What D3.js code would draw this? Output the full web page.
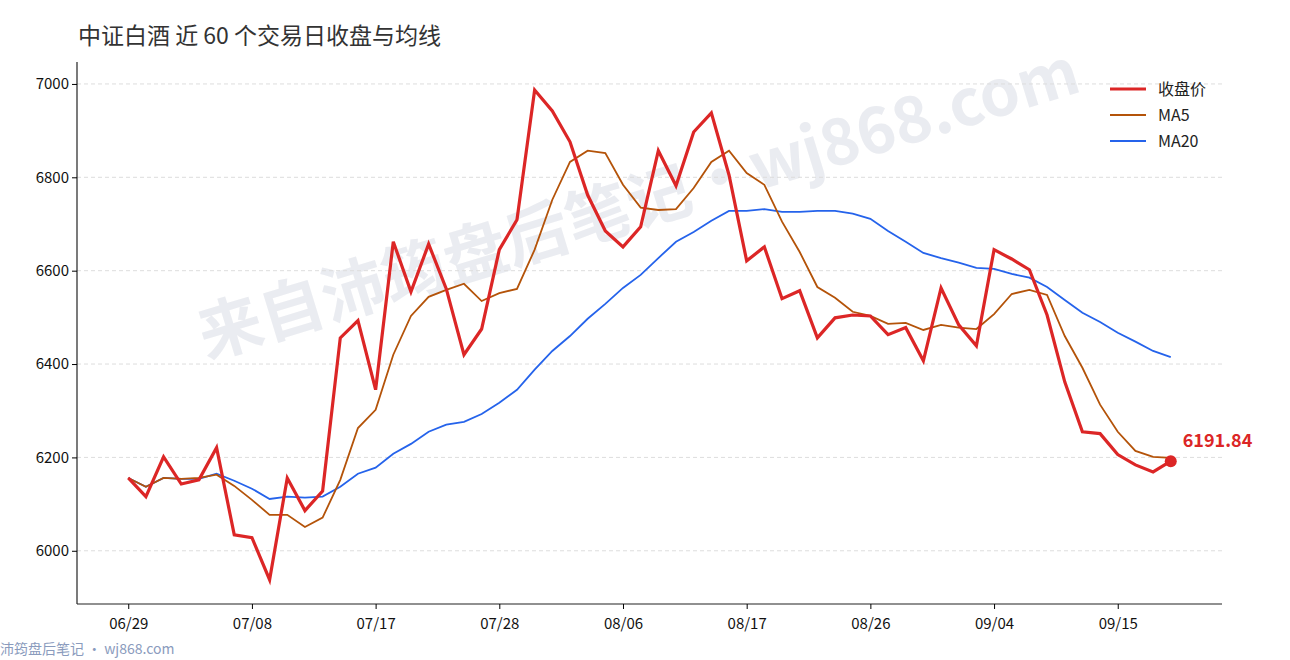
<!DOCTYPE html>
<html><head><meta charset="utf-8">
<script src="https://cdn.jsdelivr.net/npm/d3@7"></script>
<style>body{margin:0;background:#fff;font-family:"Noto Sans CJK SC","Noto Sans",sans-serif}</style>
</head><body><svg id="chart" width="1290" height="660"></svg>
<script>
const dates = ["06/29","06/30","07/01","07/02","07/03","07/06","07/07","07/08","07/09","07/10",
"07/13","07/14","07/15","07/16","07/17","07/20","07/21","07/22","07/23","07/24",
"07/27","07/28","07/29","07/30","07/31","08/03","08/04","08/05","08/06","08/07",
"08/10","08/11","08/12","08/13","08/14","08/17","08/18","08/19","08/20","08/21",
"08/24","08/25","08/26","08/27","08/28","08/31","09/01","09/02","09/03","09/04",
"09/07","09/08","09/09","09/10","09/11","09/14","09/15","09/16","09/17","09/18"];
const close = [6156,6116,6201,6143,6152,6221,6034,6028,5938,6156,6086,6128,6456,6493,6345,6662,6555,6657,6561,6420,
6475,6645,6709,6987,6942,6876,6762,6685,6651,6694,6857,6782,6897,6938,6805,6621,6651,6540,6557,6456,
6499,6505,6503,6463,6478,6407,6563,6484,6439,6645,6625,6602,6505,6362,6255,6251,6206,6184,6169,6191.84];
const ma5 = [6156,6137,6156,6154,6156,6163,6139,6109,6077,6077,6051,6071,6152,6263,6302,6420,6503,6544,6559,6572,
6535,6552,6561,6645,6752,6833,6857,6852,6784,6735,6730,6732,6777,6833,6857,6809,6784,6705,6640,6565,
6542,6512,6503,6486,6488,6473,6484,6478,6475,6507,6550,6559,6548,6460,6392,6313,6255,6214,6201,6199];
const ma20 = [6156,6137,6156,6154,6154,6165,6150,6133,6111,6116,6114,6116,6137,6165,6178,6208,6229,6255,6270,6276,
6293,6317,6345,6388,6428,6460,6497,6529,6563,6591,6627,6662,6683,6707,6728,6728,6732,6726,6726,6728,
6728,6722,6711,6685,6662,6638,6627,6617,6606,6604,6593,6585,6565,6537,6510,6490,6467,6448,6428,6415];
const yTicks = [6000,6200,6400,6600,6800,7000];
const xTickIdx = [0,7,14,21,28,35,42,49,56];

const svg = d3.select("#chart");
const L=77,R=1222,T=62,B=604;
const x = d3.scaleLinear().domain([-2.9,61.9]).range([L,R]);
const y = d3.scaleLinear().domain([5886,7047]).range([B,T]);

svg.append("text").attr("x",645).attr("y",225).attr("text-anchor","middle")
  .attr("transform","rotate(-17,645,225)").attr("font-size",64).attr("font-weight","bold")
  .attr("fill","#e6e8ee").attr("opacity",0.8).text("来自沛筠盘后笔记·wj868.com");

svg.append("g").selectAll("line").data(yTicks).join("line")
  .attr("x1",L).attr("x2",R).attr("y1",d=>y(d)).attr("y2",d=>y(d))
  .attr("stroke","#ddd").attr("stroke-dasharray","4,3");

const ya = svg.append("g").attr("transform",`translate(${L},0)`)
  .call(d3.axisLeft(y).tickValues(yTicks).tickSize(5).tickFormat(d3.format("d")));
const xa = svg.append("g").attr("transform",`translate(0,${B})`)
  .call(d3.axisBottom(x).tickValues(xTickIdx).tickSize(5).tickFormat(i=>dates[i]));
[ya,xa].forEach(a=>{a.select(".domain").attr("stroke","#222").attr("stroke-width",1.2);
  a.selectAll("text").attr("font-size",15).attr("fill","#111").attr("font-family","Noto Sans CJK SC");});
xa.select(".domain").attr("d",`M${L},0H${R}`);
ya.select(".domain").attr("d",`M0,${T}V${B}`);
xa.selectAll("text").attr("dy","1.1em");

const line = d3.line().x((d,i)=>x(i)).y(d=>y(d));
svg.append("path").datum(ma20).attr("d",line).attr("fill","none").attr("stroke","#2563eb").attr("stroke-width",1.8);
svg.append("path").datum(ma5).attr("d",line).attr("fill","none").attr("stroke","#b45309").attr("stroke-width",1.8);
svg.append("path").datum(close).attr("d",line).attr("fill","none").attr("stroke","#dc2626").attr("stroke-width",3.2);
const li=close.length-1;
svg.append("circle").attr("cx",x(li)).attr("cy",y(close[li])).attr("r",6).attr("fill","#dc2626");
svg.append("text").attr("x",x(li)+12).attr("y",y(close[li])-14).attr("font-size",18).attr("font-weight","bold")
  .attr("fill","#dc2626").text(d3.format(".2f")(close[li]));

const leg=[["收盘价","#dc2626",3.2],["MA5","#b45309",1.8],["MA20","#2563eb",1.8]];
leg.forEach((d,i)=>{const ly=89+i*26;
  svg.append("line").attr("x1",1110).attr("x2",1146).attr("y1",ly).attr("y2",ly).attr("stroke",d[1]).attr("stroke-width",d[2]);
  svg.append("text").attr("x",1158).attr("y",ly+6).attr("font-size",16).attr("fill","#222").text(d[0]);});

svg.append("text").attr("x",78).attr("y",44).attr("font-size",23).attr("fill","#333").text("中证白酒 近 60 个交易日收盘与均线");
svg.append("text").attr("x",0).attr("y",654).attr("font-size",14).attr("fill","#8a9bbd").text("沛筠盘后笔记 · wj868.com");
</script></body></html>
